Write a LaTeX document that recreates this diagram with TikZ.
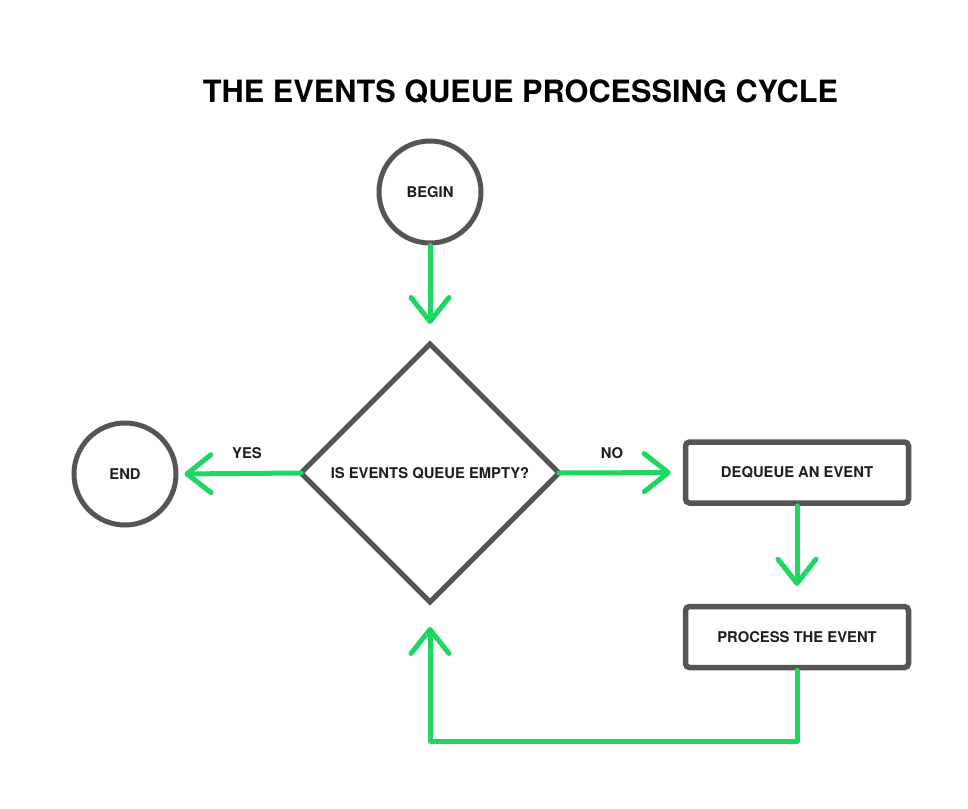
\documentclass[tikz,border=0pt]{standalone}
\usepackage{fontspec}
\setmainfont{TeX Gyre Heros}
\usetikzlibrary{shapes.geometric,arrows.meta}
\definecolor{flowgreen}{RGB}{30,215,96}
\definecolor{shapegray}{RGB}{85,85,85}
\definecolor{textdark}{RGB}{30,30,30}
\tikzset{
  lbl/.style={font=\fontsize{14.8}{16}\selectfont\bfseries, text=textdark},
  circ/.style={circle, draw=shapegray, line width=5pt, minimum size=102pt, inner sep=0pt, fill=white, lbl},
  box/.style={rectangle, rounded corners=4pt, draw=shapegray, line width=5.5pt, minimum width=223pt, minimum height=61pt, inner sep=0pt, fill=white, lbl},
  dia/.style={diamond, aspect=1, draw=shapegray, line width=5pt, minimum width=258pt, minimum height=258pt, inner sep=0pt, outer sep=0pt, fill=white, lbl},
  flow/.style={draw=flowgreen, line width=5pt, line cap=round, line join=round,
    -{Straight Barb[length=24pt, width=38pt, line cap=round, line join=round]}},
  edgelbl/.style={lbl}
}
\begin{document}
\begin{tikzpicture}[x=1pt,y=-1pt]
\useasboundingbox (0,0) rectangle (968,808);
\fill[white] (0,0) rectangle (968,808);

\node[font=\fontsize{30.7}{34}\selectfont\bfseries, text=black, anchor=base] (title) at (520.5,102) {THE EVENTS QUEUE PROCESSING CYCLE};

\node[circ] (begin) at (430,192) {BEGIN};
\node[dia] (decide) at (430,473) {IS EVENTS QUEUE EMPTY?};
\node[circ] (end) at (125,474) {END};
\node[box] (deq) at (797,472.5) {DEQUEUE AN EVENT};
\node[box] (proc) at (797,637) {PROCESS THE EVENT};

\coordinate (loopr) at (797,741);
\coordinate (loopl) at (430,741);

\draw[flow, shorten >=20pt] (begin.south) -- (decide.north);
\draw[flow, shorten >=6pt] (decide.west) -- (end.east);
\draw[flow, shorten >=12pt] (decide.east) -- (deq.west);
\draw[flow, shorten >=18pt] (deq.south) -- (proc.north);
\draw[flow, shorten >=25pt] (proc.south) -- (loopr) -- (loopl) -- (decide.south);

\node[edgelbl] (yes) at (247,453) {YES};
\node[edgelbl] (no) at (612,453) {NO};
\end{tikzpicture}
\end{document}
